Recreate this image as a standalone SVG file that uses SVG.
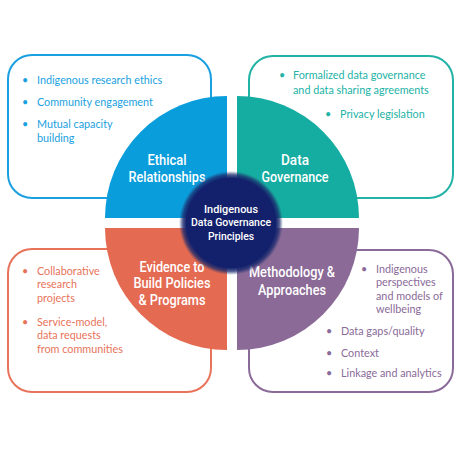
<svg xmlns="http://www.w3.org/2000/svg" width="460" height="450" viewBox="0 0 460 450">
<defs>
<radialGradient id="glow" cx="0.5" cy="0.5" r="0.5">
<stop offset="0" stop-color="#13216c"/>
<stop offset="0.86" stop-color="#13216c"/>
<stop offset="0.93" stop-color="#1a2a6e" stop-opacity="0.75"/>
<stop offset="1" stop-color="#2a3870" stop-opacity="0"/>
</radialGradient>
<style>
.box{fill:#fff;stroke-width:2}
.bt{font-family:Lato,"Open Sans","Liberation Sans",sans-serif;font-size:10.8px}
.ql{font-family:Roboto,"Liberation Sans",sans-serif;font-size:14px;font-weight:500;fill:#fff;text-anchor:middle}
.cl{font-family:Roboto,"Liberation Sans",sans-serif;font-size:11.5px;font-weight:500;fill:#fff;text-anchor:middle}
.blue{fill:#1a9fe0}.teal{fill:#22b2a6}.orange{fill:#e8735a}.purple{fill:#8a6a98}
</style>
</defs>
<rect width="460" height="450" fill="#fff"/>
<g id="box-ethical">
<rect class="box" x="8" y="55" width="203" height="143" rx="24" stroke="#1a9fe0"/>
<g class="bt blue">
<text x="22" y="84">•</text><text x="37" y="84">Indigenous research ethics</text>
<text x="22" y="106">•</text><text x="37" y="106">Community engagement</text>
<text x="22" y="128">•</text><text x="37" y="128">Mutual capacity</text>
<text x="37" y="142">building</text>
</g>
</g>
<g id="box-data">
<rect class="box" x="249" y="56" width="204" height="142" rx="24" stroke="#22b2a6"/>
<g class="bt teal">
<text x="279" y="79">•</text><text x="293" y="79">Formalized data governance</text>
<text x="293" y="94">and data sharing agreements</text>
<text x="325" y="118">•</text><text x="340" y="118">Privacy legislation</text>
</g>
</g>
<g id="box-evidence">
<rect class="box" x="8" y="249" width="203" height="143" rx="24" stroke="#e8735a"/>
<g class="bt orange">
<text x="22" y="275">•</text><text x="37" y="275">Collaborative</text>
<text x="37" y="288">research</text>
<text x="37" y="302">projects</text>
<text x="22" y="326">•</text><text x="37" y="326">Service-model,</text>
<text x="37" y="339">data requests</text>
<text x="37" y="353">from communities</text>
</g>
</g>
<g id="box-methodology">
<rect class="box" x="249" y="250" width="204" height="142" rx="24" stroke="#8a6a98"/>
<g class="bt purple">
<text x="361" y="273">•</text><text x="376" y="273">Indigenous</text>
<text x="376" y="286">perspectives</text>
<text x="376" y="300">and models of</text>
<text x="376" y="313">wellbeing</text>
<text x="326" y="335">•</text><text x="341" y="335">Data gaps/quality</text>
<text x="326" y="357">•</text><text x="341" y="357">Context</text>
<text x="326" y="377">•</text><text x="341" y="377">Linkage and analytics</text>
</g>
</g>
<g id="q-ethical">
<path d="M227,218 L105,218 A122,122 0 0 1 227,96 Z" fill="#0a9ddc"/>
<text class="ql" x="167" y="165" textLength="39" lengthAdjust="spacingAndGlyphs">Ethical</text>
<text class="ql" x="167" y="182" textLength="77" lengthAdjust="spacingAndGlyphs">Relationships</text>
</g>
<g id="q-data">
<path d="M237,218 L237,96 A122,122 0 0 1 359,218 Z" fill="#15ada1"/>
<text class="ql" x="295" y="165" textLength="28" lengthAdjust="spacingAndGlyphs">Data</text>
<text class="ql" x="295" y="182" textLength="67" lengthAdjust="spacingAndGlyphs">Governance</text>
</g>
<g id="q-evidence">
<path d="M227,228 L227,350 A122,122 0 0 1 105,228 Z" fill="#e46a51"/>
<text class="ql" x="172" y="272" textLength="65" lengthAdjust="spacingAndGlyphs">Evidence to</text>
<text class="ql" x="172" y="288" textLength="77" lengthAdjust="spacingAndGlyphs">Build Policies</text>
<text class="ql" x="172" y="305" textLength="67" lengthAdjust="spacingAndGlyphs">&amp; Programs</text>
</g>
<g id="q-methodology">
<path d="M237,228 L359,228 A122,122 0 0 1 237,350 Z" fill="#8b6a98"/>
<text class="ql" x="292" y="277" textLength="86" lengthAdjust="spacingAndGlyphs">Methodology &amp;</text>
<text class="ql" x="292" y="295" textLength="68" lengthAdjust="spacingAndGlyphs">Approaches</text>
</g>
<g id="center">
<circle cx="231" cy="223" r="52" fill="url(#glow)"/>
<text class="cl" x="231" y="213" textLength="54" lengthAdjust="spacingAndGlyphs">Indigenous</text>
<text class="cl" x="231" y="226" textLength="80" lengthAdjust="spacingAndGlyphs">Data Governance</text>
<text class="cl" x="231" y="240" textLength="46" lengthAdjust="spacingAndGlyphs">Principles</text>
</g>
</svg>
